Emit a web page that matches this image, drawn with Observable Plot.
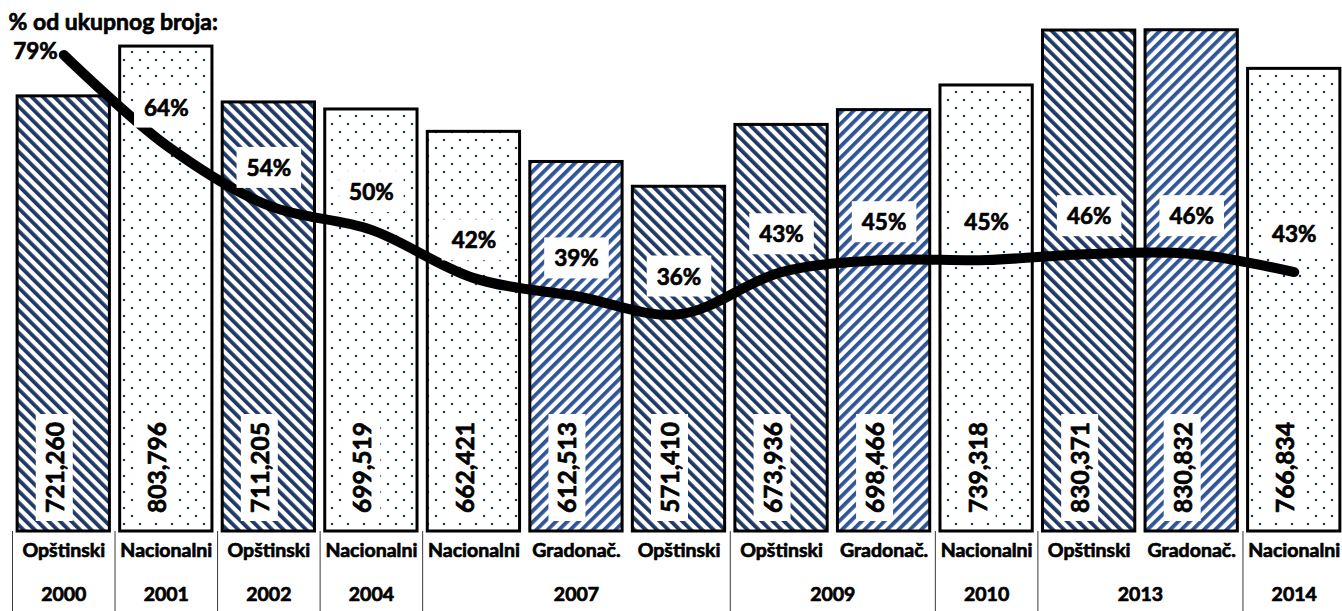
<!DOCTYPE html>
<html><head><meta charset="utf-8">
<script src="https://cdn.jsdelivr.net/npm/d3@7"></script>
<script src="https://cdn.jsdelivr.net/npm/@observablehq/plot@0.6"></script>
<style>html,body{margin:0;padding:0;background:#fff;} svg{display:block;}</style>
</head><body><div id="chart"></div>
<script>
// ---- data ----
const categories = ["Opštinski","Nacionalni","Opštinski","Nacionalni","Nacionalni","Gradonač.","Opštinski","Opštinski","Gradonač.","Nacionalni","Opštinski","Gradonač.","Nacionalni"];
const years = ["2000","2001","2002","2004","2007","2007","2007","2009","2009","2010","2013","2013","2014"];
const voters = [721260,803796,711205,699519,662421,612513,571410,673936,698466,739318,830371,830832,766834];
const percents = [79,64,54,50,42,39,36,43,45,45,46,46,43];
const title = "% od ukupnog broja:";

// secondary axis: 1 % shares the y scale as 10,000 voters
const PCT_UNITS = 10000;

const rows = voters.map((v, i) => ({i, category: categories[i], year: years[i], voters: v, pct: percents[i]}));
const patternOf = {"Opštinski": "url(#pat-opst)", "Gradonač.": "url(#pat-grad)", "Nacionalni": "url(#pat-nac)"};
const groups = d3.groups(rows, d => d.year).map(([year, rs]) => ({year, first: rs[0].i, last: rs[rs.length - 1].i}));
const separators = [groups[0].first - 0.5, ...groups.map(g => g.last + 0.5)];
const fmt = d3.format(",");
const font = "Lato, 'Open Sans', sans-serif";
const heavy = {fontWeight: "bold", fill: "black", stroke: "black", strokeWidth: 0.7, paintOrder: "stroke"};

const chart = Plot.plot({
  width: 1342, height: 611,
  marginLeft: 12, marginRight: 0, marginTop: 20, marginBottom: 80,
  x: {domain: [-0.5, 12.5], range: [12, 1345], axis: null},
  y: {domain: [0, 847000], axis: null},
  color: {type: "identity"},
  style: {fontFamily: font, background: "white", overflow: "visible", color: "black"},
  marks: [
    Plot.ruleX(separators, {x: d => d, stroke: "#3a3a3a", strokeWidth: 1, insetTop: 511, insetBottom: -80}),
    Plot.rect(rows, {x1: d => d.i - 0.45, x2: d => d.i + 0.45, y1: 0, y2: "voters", fill: d => patternOf[d.category], stroke: "black", strokeWidth: 3}),
    Plot.line(rows, {x: "i", y: d => d.pct * PCT_UNITS, curve: "catmull-rom", stroke: "black", strokeWidth: 10, strokeLinecap: "round", strokeLinejoin: "round"}),
    Plot.text([title], {text: d => d, frameAnchor: "top-left", textAnchor: "start", lineAnchor: "middle", dx: -4, dy: 2, fontSize: 23, ...heavy, className: "t-title"}),
    Plot.text(rows, {x: "i", text: "category", frameAnchor: "bottom", dy: 25, fontSize: 19.5, ...heavy, className: "t-cat"}),
    Plot.text(groups, {x: d => (d.first + d.last) / 2, text: "year", frameAnchor: "bottom", dy: 69, fontSize: 19.5, ...heavy, className: "t-year"}),
    Plot.text(rows, {x: "i", text: d => fmt(d.voters), frameAnchor: "bottom", dy: -64, rotate: -90, fontSize: 24.5, ...heavy, className: "boxed-v"}),
    Plot.text(rows.filter(d => d.i > 0), {x: "i", y: d => d.pct * PCT_UNITS, text: d => d.pct + "%", dy: -37, fontSize: 22.5, ...heavy, className: "boxed-p"}),
    Plot.text(rows.filter(d => d.i === 0), {x: "i", y: d => d.pct * PCT_UNITS, text: d => d.pct + "%", textAnchor: "end", dx: -6, dy: -3, fontSize: 22.5, ...heavy, className: "t-first"})
  ]
});

// patterns
const defs = d3.select(chart).insert("defs", ":first-child");
function stripes(id, color, angle) {
  const p = defs.append("pattern").attr("id", id).attr("patternUnits", "userSpaceOnUse")
    .attr("width", 8).attr("height", 8).attr("patternTransform", `rotate(${angle})`);
  p.append("rect").attr("width", 8).attr("height", 8).attr("fill", "white");
  p.append("rect").attr("width", 3.8).attr("height", 8).attr("fill", color);
}
stripes("pat-opst", "#1F3864", -45);
stripes("pat-grad", "#2F5597", 45);
const dots = defs.append("pattern").attr("id", "pat-nac").attr("patternUnits", "userSpaceOnUse").attr("width", 16).attr("height", 16);
dots.append("rect").attr("width", 16).attr("height", 16).attr("fill", "white");
dots.append("circle").attr("cx", 4).attr("cy", 4).attr("r", 1.25).attr("fill", "#1F3864");
dots.append("circle").attr("cx", 12).attr("cy", 12).attr("r", 1.25).attr("fill", "#1F3864");

document.getElementById("chart").append(chart);

// white label boxes behind value and percent labels
const textGroups = chart.querySelectorAll('g[aria-label="text"]');
function boxes(cls, fallbackIndex, padX, padY) {
  let g = chart.querySelector("g." + cls);
  if (!g) g = textGroups[fallbackIndex];
  if (!g) return;
  g.querySelectorAll("text").forEach(t => {
    const b = t.getBBox();
    const r = document.createElementNS("http://www.w3.org/2000/svg", "rect");
    r.setAttribute("x", b.x - padX);
    r.setAttribute("y", b.y - padY);
    r.setAttribute("width", b.width + 2 * padX);
    r.setAttribute("height", b.height + 2 * padY);
    r.setAttribute("fill", "white");
    r.setAttribute("stroke", "none");
    const tr = t.getAttribute("transform");
    if (tr) r.setAttribute("transform", tr);
    t.parentNode.insertBefore(r, t);
  });
}
boxes("boxed-v", 3, 8, 4);
boxes("boxed-p", 4, 10, 7);
</script>
</body></html>
